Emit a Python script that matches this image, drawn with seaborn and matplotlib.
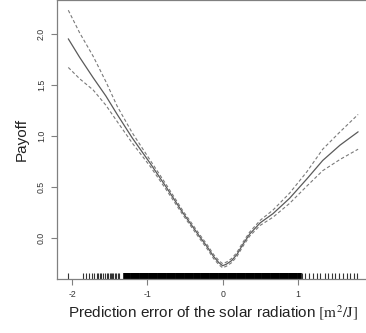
import matplotlib
matplotlib.use('Agg')
import matplotlib.pyplot as plt
import seaborn as sns
import pandas as pd

# smooth term estimate with +/- 2 se band
x_err = [-2.05, -1.9, -1.72, -1.55, -1.4, -1.2, -0.96, -0.75, -0.53, -0.30, -0.20, -0.12,
         -0.05, 0.0, 0.05, 0.12, 0.19, 0.27, 0.36, 0.50, 0.67, 0.89, 1.12, 1.33, 1.56, 1.80]
fit = [1.95, 1.77, 1.57, 1.39, 1.21, 0.98, 0.73, 0.50, 0.25, 0.01, -0.09, -0.18,
       -0.24, -0.27, -0.255, -0.22, -0.16, -0.06, 0.04, 0.15, 0.24, 0.39, 0.58, 0.76, 0.91, 1.04]
upper = [2.23, 2.01, 1.78, 1.53, 1.29, 1.03, 0.76, 0.525, 0.27, 0.03, -0.07, -0.16,
         -0.22, -0.25, -0.235, -0.20, -0.14, -0.04, 0.06, 0.175, 0.275, 0.44, 0.65, 0.87, 1.04, 1.21]
lower = [1.67, 1.56, 1.45, 1.30, 1.14, 0.93, 0.70, 0.475, 0.23, -0.01, -0.11, -0.20,
         -0.26, -0.29, -0.275, -0.24, -0.18, -0.08, 0.02, 0.125, 0.205, 0.34, 0.51, 0.66, 0.77, 0.87]

# observed prediction errors (rug)
rug_sparse = [-2.05, -1.85, -1.82, -1.78, -1.74, -1.71, -1.67, -1.65, -1.63, -1.61, -1.59, -1.56,
              -1.54, -1.52, -1.50, -1.48, -1.47, -1.45, -1.43, -1.41, -1.39, -1.37,
              1.05, 1.09, 1.15, 1.20, 1.25, 1.29, 1.36, 1.40, 1.45, 1.49, 1.55, 1.60,
              1.65, 1.69, 1.74, 1.79]
rug_dense = [-1.30, -1.27, -1.24, -1.21, -1.18, -1.15, -1.12, -1.09, -1.06, -1.03, -1.00,
             -0.97, -0.94, -0.91, -0.88, -0.85, -0.82, -0.79, -0.76, -0.73, -0.70, -0.67,
             -0.64, -0.61, -0.58, -0.55, -0.52, -0.49, -0.46, -0.43, -0.40, -0.37, -0.34,
             -0.31, -0.28, -0.25, -0.22, -0.19, -0.16, -0.13, -0.10, -0.07, -0.04, -0.01,
             0.02, 0.05, 0.08, 0.11, 0.14, 0.17, 0.20, 0.23, 0.26, 0.29, 0.32, 0.35, 0.38,
             0.41, 0.44, 0.47, 0.50, 0.53, 0.56, 0.59, 0.62, 0.65, 0.68, 0.71, 0.74, 0.77,
             0.80, 0.83, 0.86, 0.89, 0.92, 0.95, 0.98, 1.01, 1.03]

xticks = [-2, -1, 0, 1]
yticks = [0.0, 0.5, 1.0, 1.5, 2.0]

sns.set_style('white')
plt.rcParams['font.family'] = ['Liberation Sans', 'DejaVu Sans']
plt.rcParams['mathtext.fontset'] = 'stix'

df = pd.DataFrame({'x': x_err, 'fit': fit, 'upper': upper, 'lower': lower})

fig = plt.figure(figsize=(3.66, 3.33), dpi=100)
ax = fig.add_axes([56.7 / 366, 54 / 333, 313 / 366, 279 / 333])

sns.lineplot(data=df, x='x', y='fit', color='#5a5a5a', linewidth=0.9, ax=ax)
sns.lineplot(data=df, x='x', y='upper', color='#7a7a7a', linewidth=0.8, linestyle=(0, (3, 2)), ax=ax)
sns.lineplot(data=df, x='x', y='lower', color='#7a7a7a', linewidth=0.8, linestyle=(0, (3, 2)), ax=ax)

sns.rugplot(x=rug_sparse, height=0.022, color='#333333', linewidth=0.8, ax=ax)
sns.rugplot(x=rug_dense, height=0.022, color='black', linewidth=2.6, ax=ax)

ax.set_xlim(-2.204, 1.954)
ax.set_ylim(-0.40, 2.33)
ax.set_xticks(xticks)
ax.set_xticklabels(['-2', '-1', '0', '1'])
ax.set_yticks(yticks)
ax.set_yticklabels(['0.0', '0.5', '1.0', '1.5', '2.0'], rotation=90, va='center')

for s in ax.spines.values():
    s.set_color('#808080')
    s.set_linewidth(0.9)

ax.tick_params(axis='both', which='major', direction='out', length=4.3, width=0.8,
               color='#808080', labelsize=6.3, labelcolor='#333333', pad=3.5, left=True, bottom=True)

ax.set_xlabel(r'Prediction error of the solar radiation $[\mathrm{m}^2/\mathrm{J}]$',
              fontsize=11, color='#222222', labelpad=3)
ax.set_ylabel('Payoff', fontsize=11, color='#222222', labelpad=6)

fig.savefig('out.png', dpi=100)
